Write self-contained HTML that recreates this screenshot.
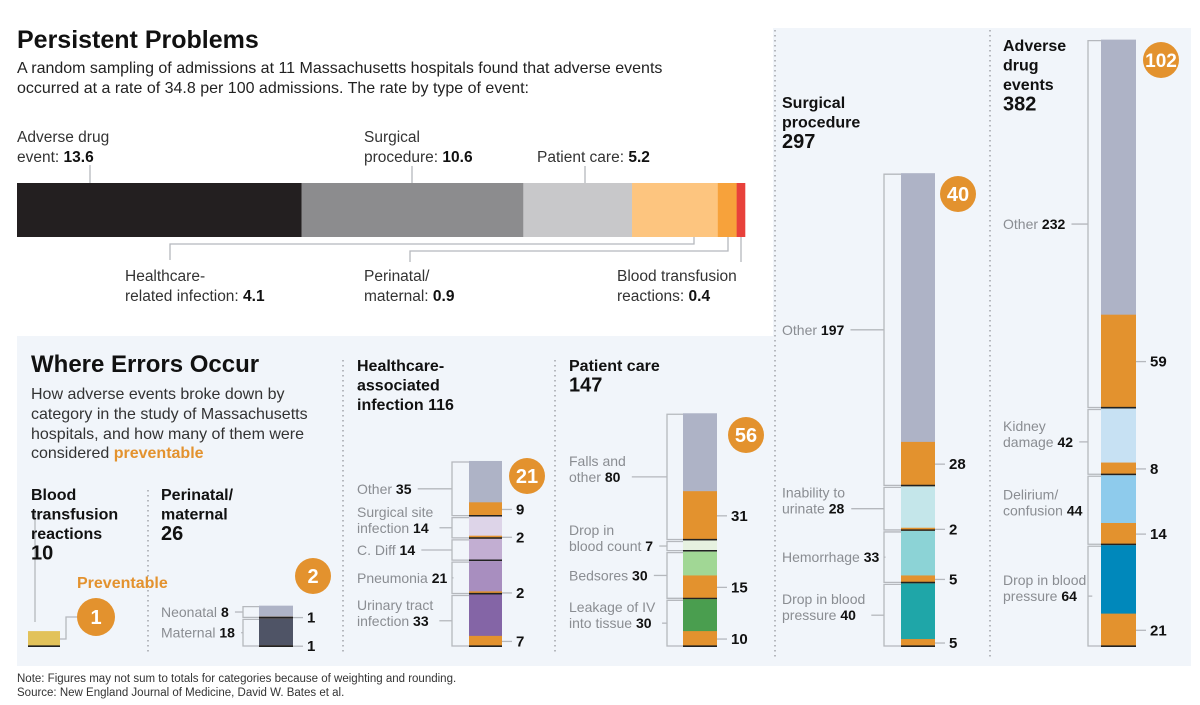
<!DOCTYPE html>
<html><head><meta charset="utf-8"><style>
html,body{margin:0;padding:0;background:#fff;}
svg{display:block;font-family:"Liberation Sans",sans-serif;}
</style></head><body>
<svg id="chart" width="1200" height="705" viewBox="0 0 1200 705" xmlns="http://www.w3.org/2000/svg">
<rect x="17" y="336" width="756" height="330" fill="#f1f5fa"/>
<rect x="773" y="28" width="418" height="638" fill="#f1f5fa"/>
<g stroke="#b5b8bd" stroke-width="2" stroke-dasharray="1.5,3.5">
<line x1="775" y1="30" x2="775" y2="660"/><line x1="990" y1="30" x2="990" y2="660"/>
<line x1="343" y1="360" x2="343" y2="655"/><line x1="555" y1="360" x2="555" y2="655"/>
<line x1="148" y1="490" x2="148" y2="655"/></g>
<text x="17" y="48" font-size="25" font-weight="bold" fill="#111">Persistent Problems</text>
<text font-size="16" fill="#222"><tspan x="17" y="73">A random sampling of admissions at 11 Massachusetts hospitals found that adverse events</tspan><tspan x="17" y="93">occurred at a rate of 34.8 per 100 admissions. The rate by type of event:</tspan></text>
<g id="topbar"></g>
<g font-size="15.5" fill="#333">
<text x="17" y="142">Adverse drug</text><text x="17" y="162">event: <tspan font-weight="bold" fill="#111">13.6</tspan></text>
<text x="364" y="142">Surgical</text><text x="364" y="162">procedure: <tspan font-weight="bold" fill="#111">10.6</tspan></text>
<text x="537" y="162">Patient care: <tspan font-weight="bold" fill="#111">5.2</tspan></text>
<text x="125" y="281">Healthcare-</text><text x="125" y="301">related infection: <tspan font-weight="bold" fill="#111">4.1</tspan></text>
<text x="364" y="281">Perinatal/</text><text x="364" y="301">maternal: <tspan font-weight="bold" fill="#111">0.9</tspan></text>
<text x="617" y="281">Blood transfusion</text><text x="617" y="301">reactions: <tspan font-weight="bold" fill="#111">0.4</tspan></text>
</g>
<g stroke="#b5b8bd" stroke-width="1.3" fill="none">
<line x1="90" y1="165" x2="90" y2="183"/><line x1="412" y1="166" x2="412" y2="183"/><line x1="585" y1="166" x2="585" y2="183"/>
<polyline points="694,237 694,244 170,244 170,260"/><polyline points="728,237 728,251 410,251 410,262"/><line x1="741" y1="237" x2="741" y2="262"/>
</g>
<text x="31" y="372" font-size="24" font-weight="bold" fill="#111">Where Errors Occur</text>
<text font-size="16" fill="#333"><tspan x="31" y="399">How adverse events broke down by</tspan><tspan x="31" y="419">category in the study of Massachusetts</tspan><tspan x="31" y="439">hospitals, and how many of them were</tspan><tspan x="31" y="458">considered <tspan font-weight="bold" fill="#e3922e">preventable</tspan></tspan></text>
<text x="77" y="588" font-size="16" font-weight="bold" fill="#e3922e">Preventable</text>
<g id="stacks"></g>
<text font-size="11.5" fill="#333"><tspan x="17" y="682">Note: Figures may not sum to totals for categories because of weighting and rounding.</tspan><tspan x="17" y="696">Source: New England Journal of Medicine, David W. Bates et al.</tspan></text>
</svg>
<script>
const NS="http://www.w3.org/2000/svg";
// top rate bar
const rateCats=["Adverse drug event","Surgical procedure","Patient care","Healthcare-related infection","Perinatal/maternal","Blood transfusion reactions"];
const rateVals=[13.6,10.6,5.2,4.1,0.9,0.4];
const rateColors=["#231f20","#8c8c8e","#c8c8ca","#fdc57f","#f7a23b","#e8413b"];
// stacks: category names, totals, preventable
const adeCats=["Other","Kidney damage","Delirium/ confusion","Drop in blood pressure"];
const adeVals=[232,42,44,64];
const adePrev=[59,8,14,21];
const surCats=["Other","Inability to urinate","Hemorrhage","Drop in blood pressure"];
const surVals=[197,28,33,40];
const surPrev=[28,2,5,5];
const pcCats=["Falls and other","Drop in blood count","Bedsores","Leakage of IV into tissue"];
const pcVals=[80,7,30,30];
const pcPrev=[31,0,15,10];
const hcCats=["Other","Surgical site infection","C. Diff","Pneumonia","Urinary tract infection"];
const hcVals=[35,14,14,21,33];
const hcPrev=[9,2,0,2,7];
const perCats=["Neonatal","Maternal"];
const perVals=[8,18];
const perPrev=[1,1];
const bloodVals=[10];
const bloodPrev=[1];
const stackTitles=["Adverse drug events 382","Surgical procedure 297","Patient care 147","Healthcare-associated infection 116","Perinatal/maternal 26","Blood transfusion reactions 10"];
const bubbleVals=[102,40,56,21,2,1];

function mk(t,a,p){const e=document.createElementNS(NS,t);for(const k in a)e.setAttribute(k,a[k]);(p||document.getElementById('stacks')).appendChild(e);return e;}

// rate bar
const tb=document.getElementById('topbar');
const rx0=17,rx1=745,rsum=rateVals.reduce((a,b)=>a+b,0);
const xr=v=>rx0+v/rsum*(rx1-rx0);
let acc=0;
rateVals.forEach((v,i)=>{
  const r=mk('rect',{x:xr(acc),y:183,width:xr(acc+v)-xr(acc)+0.3,height:54,fill:rateColors[i]},tb);
  
  
  acc+=v;
});

const S=1.59,BOT=647,ORANGE="#e3922e";
const yv=v=>BOT-v*S;
function stack(cfg){
  const {cats,vals,prev,colors,bx,bw,brx,lx,bub,name}=cfg;
  const total=vals.reduce((a,b)=>a+b,0);
  let top=total;
  vals.forEach((v,i)=>{
    const y0=yv(top),y1=yv(top-v),yp=yv(top-v+prev[i]);
    const seg=mk('rect',{x:bx,y:y0,width:bw,height:y1-y0,fill:colors[i]});
    
    
    if(prev[i]>0){
      const ps=mk('rect',{x:bx,y:yp,width:bw,height:y1-yp,fill:ORANGE});
      
      
      const cy=(yp+y1)/2;
      mk('line',{x1:bx+bw,y1:cy,x2:bx+bw+10,y2:cy,stroke:'#b5b8bd','stroke-width':1.3});
      const nt=mk('text',{x:bx+bw+14,y:cy+5,'font-size':15,'font-weight':'bold',fill:'#111'});
      nt.textContent=prev[i];
      
      
    }
    mk('line',{x1:bx,y1:y1-0.8,x2:bx+bw,y2:y1-0.8,stroke:'#222','stroke-width':1.6});
    if(cats){
      const mid=(y0+y1)/2;
      mk('polyline',{points:`${bx},${y0+1} ${brx},${y0+1} ${brx},${y1-1} ${bx},${y1-1}`,fill:'none',stroke:'#b5b8bd','stroke-width':1.3});
      const words=cats[i].split(' ');
      const lines=cfg.split&&cfg.split[i]?cfg.split[i]:[cats[i]];
      const lt=mk('text',{x:lx,'font-size':14,fill:'#8a8d92'});
      
      
      const n=lines.length;
      lines.forEach((ln,j)=>{
        const ts=document.createElementNS(NS,'tspan');
        ts.setAttribute('x',lx);ts.setAttribute('y',mid+5-(n-1-j)*16);
        ts.textContent=ln+(j==n-1?' ':'');
        lt.appendChild(ts);
        if(j==n-1){const b=document.createElementNS(NS,'tspan');b.setAttribute('font-weight','bold');b.setAttribute('fill','#111');b.textContent=vals[i];lt.appendChild(b);}
      });
      const w=lt.getBBox();
      mk('line',{x1:w.x+w.width+6,y1:mid,x2:brx,y2:mid,stroke:'#b5b8bd','stroke-width':1.3});
    }
    top-=v;
  });
  const c=mk('circle',{cx:bub[0],cy:bub[1],r:bub[2],fill:ORANGE});
  
  
  const bt=mk('text',{x:bub[0],y:bub[1]+7,'text-anchor':'middle','font-size':bub[3],'font-weight':'bold',fill:'#fff'});
  bt.textContent=cfg.bubv;
  
  
}
stack({name:'adverse-drug',cats:adeCats,vals:adeVals,prev:adePrev,colors:["#aeb3c6","#c7e1f3","#8ecbec","#0088bb"],bx:1101,bw:35,brx:1088,lx:1003,bub:[1161,60,18,19],bubv:bubbleVals[0],split:[["Other"],["Kidney","damage"],["Delirium/","confusion"],["Drop in blood","pressure"]]});
stack({name:'surgical',cats:surCats,vals:surVals,prev:surPrev,colors:["#aeb3c6","#c4e6ea","#8cd3d6","#1fa6a8"],bx:901,bw:34,brx:884,lx:782,bub:[958,194,18,20],bubv:bubbleVals[1],split:[["Other"],["Inability to","urinate"],["Hemorrhage"],["Drop in blood","pressure"]]});
stack({name:'patient-care',cats:pcCats,vals:pcVals,prev:pcPrev,colors:["#aeb3c6","#e6f1e0","#a1d795","#4a9e4f"],bx:683,bw:34,brx:667,lx:569,bub:[746,435,18,20],bubv:bubbleVals[2],split:[["Falls and","other"],["Drop in","blood count"],["Bedsores"],["Leakage of IV","into tissue"]]});
stack({name:'healthcare-infection',cats:hcCats,vals:hcVals,prev:hcPrev,colors:["#aeb3c6","#ddd4e8","#c2aed2","#a88ebf","#8465a6"],bx:469,bw:33,brx:452,lx:357,bub:[527,476,18,20],bubv:bubbleVals[3],split:[["Other"],["Surgical site","infection"],["C. Diff"],["Pneumonia"],["Urinary tract","infection"]]});
stack({name:'perinatal',cats:perCats,vals:perVals,prev:perPrev,colors:["#aeb3c6","#4f5466"],bx:259,bw:34,brx:243,lx:161,bub:[313,576,18,20],bubv:bubbleVals[4],split:[["Neonatal"],["Maternal"]]});
stack({name:'blood-transfusion',cats:null,vals:bloodVals,prev:[0],colors:["#e2c25a"],bx:28,bw:32,brx:0,lx:0,bub:[96,617,19,20],bubv:bubbleVals[5]});
mk('polyline',{points:'35,510 35,622',fill:'none',stroke:'#b5b8bd','stroke-width':1.3});
mk('polyline',{points:'60,639 66,639 66,617 77,617',fill:'none',stroke:'#b5b8bd','stroke-width':1.3});
// titles
const titleSpecs=[[1003,51,["Adverse","drug","events"],"382"],[782,108,["Surgical","procedure"],"297"],[569,371,["Patient care"],"147"],[357,371,["Healthcare-","associated","infection 116"],null],[161,500,["Perinatal/","maternal"],"26"],[31,500,["Blood","transfusion","reactions"],"10"]];
titleSpecs.forEach((t,i)=>{
  const g=mk('text',{x:t[0],'font-size':16,'font-weight':'bold',fill:'#111'});
  
  
  t[2].forEach((ln,j)=>{const s=document.createElementNS(NS,'tspan');s.setAttribute('x',t[0]);s.setAttribute('y',t[1]+j*19.5);s.textContent=ln;g.appendChild(s);});
  if(t[3]){const s=document.createElementNS(NS,'tspan');s.setAttribute('x',t[0]);s.setAttribute('y',t[1]+t[2].length*19.5+1);s.setAttribute('font-size',20);s.textContent=t[3];g.appendChild(s);}
});
</script>
</body></html>
